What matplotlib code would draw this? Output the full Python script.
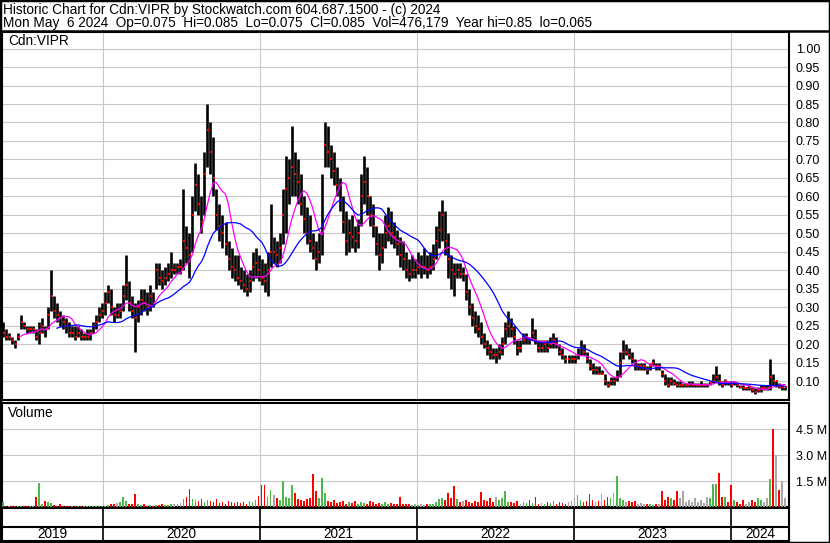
import matplotlib
matplotlib.use('Agg')
import matplotlib.pyplot as plt
import matplotlib.dates as mdates
from matplotlib.lines import Line2D
from matplotlib.patches import Rectangle
import numpy as np
import pandas as pd

plt.rcParams['font.family'] = ['Liberation Sans', 'DejaVu Sans']

# 週足データ（チャートから読み取り、最終週 = 2024-05-06）
wk_low = [
    .20, .22, .21, .21, .20, .19, .21, .24, .24, .23,
    .23, .23, .21, .20, .23, .22, .24, .29, .27, .26,
    .25, .24, .23, .22, .22, .21, .22, .21, .21, .21,
    .21, .23, .24, .26, .27, .28, .31, .28, .26, .27,
    .27, .29, .32, .29, .27, .18, .26, .28, .29, .28,
    .29, .30, .35, .36, .35, .36, .37, .38, .39, .39,
    .39, .40, .42, .38, .45, .56, .55, .50, .55, .68,
    .66, .60, .51, .48, .46, .44, .40, .38, .37, .36,
    .35, .34, .33, .34, .37, .38, .37, .36, .34, .33,
    .41, .42, .41, .42, .47, .50, .58, .60, .60, .58,
    .55, .50, .47, .45, .43, .40, .42, .44, .68, .68,
    .65, .63, .60, .56, .50, .44, .45, .46, .45, .46,
    .52, .58, .55, .52, .49, .44, .40, .42, .46, .48,
    .47, .46, .44, .41, .40, .38, .37, .38, .38, .39,
    .38, .39, .38, .39, .40, .43, .46, .48, .44, .38,
    .35, .33, .38, .38, .37, .32, .28, .25, .23, .22,
    .20, .19, .17, .16, .16, .15, .16, .17, .20, .22,
    .22, .20, .17, .18, .20, .20, .20, .21, .20, .18,
    .18, .18, .18, .19, .19, .19, .17, .16, .15, .15,
    .15, .15, .16, .17, .17, .15, .13, .12, .12, .12,
    .12, .09, .085, .09, .09, .10, .11, .16, .17, .16,
    .15, .13, .13, .13, .13, .12, .13, .14, .13, .13,
    .11, .09, .085, .09, .09, .085, .085, .085, .085, .085,
    .085, .085, .085, .085, .085, .085, .09, .095, .10, .09,
    .085, .09, .09, .085, .09, .085, .08, .075, .075, .075,
    .07, .065, .07, .07, .075, .075, .075, .09, .085, .08, .075, .075,
]
wk_high = [
    .26, .26, .24, .23, .22, .21, .23, .28, .26, .25,
    .25, .25, .24, .26, .27, .25, .30, .40, .33, .31,
    .29, .28, .27, .26, .25, .25, .25, .24, .23, .24,
    .24, .26, .28, .30, .31, .34, .36, .35, .30, .31,
    .31, .36, .44, .37, .33, .31, .32, .35, .35, .34,
    .36, .34, .42, .42, .40, .41, .42, .45, .42, .42,
    .43, .62, .52, .50, .60, .69, .66, .60, .72, .85,
    .80, .76, .62, .58, .55, .53, .48, .46, .44, .44,
    .41, .40, .39, .40, .45, .46, .44, .43, .42, .45,
    .58, .49, .48, .50, .62, .71, .70, .79, .72, .70,
    .66, .60, .57, .55, .50, .48, .50, .66, .80, .79,
    .74, .72, .68, .65, .60, .56, .54, .55, .52, .54,
    .66, .71, .68, .60, .58, .52, .50, .50, .55, .57,
    .56, .53, .51, .49, .48, .45, .43, .44, .43, .45,
    .44, .46, .44, .45, .47, .52, .56, .59, .56, .50,
    .44, .42, .42, .42, .41, .39, .35, .31, .29, .28,
    .26, .23, .21, .20, .19, .19, .20, .22, .26, .29,
    .27, .25, .21, .21, .23, .23, .22, .27, .24, .21,
    .21, .21, .21, .22, .23, .22, .20, .19, .17, .17,
    .17, .17, .19, .21, .20, .18, .16, .15, .14, .14,
    .13, .12, .10, .11, .11, .13, .18, .21, .20, .19,
    .18, .16, .15, .15, .15, .14, .15, .16, .15, .15,
    .13, .12, .11, .11, .105, .10, .10, .095, .095, .10,
    .10, .095, .095, .10, .095, .095, .10, .12, .14, .12,
    .10, .105, .10, .10, .10, .095, .09, .09, .085, .09,
    .085, .08, .085, .09, .09, .09, .16, .12, .10, .095, .09, .085,
]
wk_close = [
    .21, .23, .22, .22, .21, .20, .22, .26, .25, .24,
    .24, .24, .22, .23, .25, .24, .28, .33, .29, .28,
    .27, .26, .25, .23, .23, .22, .23, .22, .22, .22,
    .23, .25, .26, .28, .29, .31, .34, .30, .28, .28,
    .29, .33, .36, .31, .29, .27, .30, .32, .31, .30,
    .33, .31, .40, .38, .37, .38, .39, .40, .40, .41,
    .41, .48, .46, .44, .55, .63, .58, .53, .66, .78,
    .72, .65, .55, .52, .50, .47, .43, .41, .40, .38,
    .37, .36, .35, .37, .41, .42, .40, .38, .37, .40,
    .45, .45, .44, .46, .55, .62, .65, .68, .66, .64,
    .58, .54, .50, .48, .46, .43, .45, .52, .74, .72,
    .70, .67, .63, .59, .53, .48, .50, .49, .48, .50,
    .60, .64, .60, .55, .52, .47, .44, .46, .50, .52,
    .50, .49, .47, .44, .43, .40, .39, .40, .40, .41,
    .41, .41, .40, .41, .43, .48, .51, .55, .48, .43,
    .40, .39, .40, .39, .39, .34, .30, .27, .25, .24,
    .22, .20, .19, .18, .17, .17, .18, .20, .24, .25,
    .24, .22, .19, .19, .21, .22, .21, .23, .21, .19,
    .19, .20, .19, .20, .21, .20, .18, .17, .16, .16,
    .16, .16, .17, .19, .18, .16, .14, .13, .13, .12,
    .12, .10, .09, .10, .10, .11, .15, .18, .18, .17,
    .16, .14, .14, .14, .14, .13, .14, .15, .14, .14,
    .12, .10, .09, .10, .095, .09, .09, .09, .09, .09,
    .09, .09, .09, .09, .09, .09, .095, .10, .11, .10,
    .09, .10, .095, .09, .095, .09, .085, .08, .08, .08,
    .075, .07, .075, .08, .08, .08, .11, .10, .10, .085, .085, .085,
]
# 出来高（百万株）
wk_vol = [
    0.15, 0.27, 0.05, 0.04, 0.03, 0.05, 0.04, 0.03, 0.05, 0.04,
    0.04, 0.05, 0.55, 1.4, 0.2, 0.35, 0.3, 0.25, 0.1, 0.08,
    0.15, 0.08, 0.05, 0.06, 0.05, 0.04, 0.05, 0.04, 0.05, 0.04,
    0.04, 0.05, 0.04, 0.05, 0.06, 0.04, 0.1, 0.15, 0.2, 0.25,
    0.3, 0.6, 0.35, 0.2, 0.15, 0.77, 0.2, 0.1, 0.15, 0.08,
    0.1, 0.08, 0.12, 0.1, 0.15, 0.12, 0.1, 0.2, 0.15, 0.2,
    0.25, 0.45, 0.6, 1.04, 0.45, 0.4, 0.35, 0.45, 0.3, 0.4,
    0.35, 0.3, 0.45, 0.25, 0.3, 0.2, 0.35, 0.3, 0.25, 0.3,
    0.25, 0.3, 0.2, 0.35, 0.3, 0.4, 0.65, 1.25, 1.25, 0.6,
    1.0, 0.7, 0.5, 0.4, 1.5, 0.6, 0.5, 1.25, 0.8, 0.45,
    0.4, 0.35, 0.45, 0.5, 1.93, 0.9, 0.5, 1.68, 0.8, 0.35,
    0.3, 0.4, 0.25, 0.3, 0.35, 0.2, 0.3, 0.25, 0.35, 0.2,
    0.3, 0.25, 0.2, 0.35, 0.3, 0.2, 0.25, 0.15, 0.3, 0.2,
    0.25, 0.2, 0.15, 0.6, 0.2, 0.15, 0.2, 0.1, 0.15, 0.1,
    0.15, 0.1, 0.2, 0.15, 0.2, 0.3, 0.45, 0.5, 0.4, 0.8,
    0.5, 1.2, 0.45, 0.3, 0.35, 0.4, 0.3, 0.25, 0.35, 0.3,
    0.85, 0.4, 0.35, 0.5, 0.3, 0.6, 0.4, 0.5, 0.95, 0.3,
    0.3, 0.25, 0.35, 0.2, 0.3, 0.25, 0.4, 0.25, 0.6, 0.2,
    0.25, 0.2, 0.3, 0.25, 0.35, 0.2, 0.3, 0.25, 0.2, 0.3,
    0.35, 0.5, 0.7, 0.4, 0.3, 0.35, 0.75, 0.4, 0.3, 0.35,
    0.75, 0.4, 0.6, 0.5, 0.8, 1.8, 0.5, 0.4, 0.3, 0.35,
    0.3, 0.35, 0.2, 0.25, 0.15, 0.2, 0.15, 0.1, 0.2, 0.15,
    0.95, 0.4, 0.6, 0.5, 0.4, 0.9, 0.5, 0.9, 0.3, 0.4,
    0.3, 0.5, 0.3, 0.4, 0.25, 0.6, 0.5, 1.35, 1.35, 1.95,
    0.6, 0.6, 0.3, 1.25, 0.4, 0.3, 0.2, 0.4, 0.2, 0.3,
    0.4, 0.3, 0.5, 0.4, 0.3, 0.5, 1.6, 4.5, 3.0, 1.0, 1.5, 0.5,
]
years = ['2019', '2020', '2021', '2022', '2023', '2024']

header1 = 'Historic Chart for Cdn:VIPR by Stockwatch.com 604.687.1500 - (c) 2024'
header2 = ('Mon May  6 2024  Op=0.075  Hi=0.085  Lo=0.075  Cl=0.085  '
           'Vol=476,179  Year hi=0.85  lo=0.065')

dates = pd.date_range(end='2024-05-06', periods=len(wk_close), freq='7D')
x = mdates.date2num(dates)
close = pd.Series(wk_close)
ma_fast = close.rolling(8).mean()
ma_slow = close.rolling(20).mean()

x0 = mdates.date2num(pd.Timestamp('2019-05-11'))
x1 = mdates.date2num(pd.Timestamp('2024-05-15'))
year_starts = [mdates.date2num(pd.Timestamp(f'{y}-01-01')) for y in years[1:]]

W, H = 830, 543
fig = plt.figure(figsize=(W / 100, H / 100), dpi=100)


def box(l, t, r, b):
    return [l / W, 1 - b / H, (r - l) / W, (b - t) / H]


grid_kw = dict(color='#c8c8c8', lw=0.8)
FS = 9        # 目盛りラベル
FS_TXT = 9.8  # ヘッダー・パネル名・年

# --- 価格パネル ---
ax_p = fig.add_axes(box(2, 32, 789, 400))
ax_p.vlines(x, wk_low, wk_high, color='black', lw=1.9, zorder=3)
ax_p.plot(x + 1.5, wk_close, 's', color='red', ms=1.6, mew=0, zorder=4)
ax_p.plot(x, ma_fast, color='#ff00ff', lw=0.9, zorder=5)
ax_p.plot(x, ma_slow, color='#0000ff', lw=0.9, zorder=5)
ax_p.set_xlim(x0, x1)
ax_p.set_ylim(0.0487, 1.045)
yt = np.arange(0.10, 1.001, 0.05)
ax_p.set_yticks(yt)
ax_p.set_yticklabels([f'{v:.2f}' for v in yt])
ax_p.set_xticks(year_starts)
ax_p.grid(True, **grid_kw)
ax_p.set_axisbelow(True)
ax_p.tick_params(axis='both', length=0, labelbottom=False, labelleft=False,
                 labelright=True, labelsize=FS, pad=5)
fig.text(8 / W, 1 - 41 / H, 'Cdn:VIPR', fontsize=FS_TXT, va='center')

# --- 出来高パネル ---
ax_v = fig.add_axes(box(2, 403, 789, 507))
diff = np.diff(np.array(wk_close), prepend=wk_close[0])
vcol = np.where(diff > 1e-9, '#4cb84c', np.where(diff < -1e-9, '#ff0000', '#a8a8a8'))
ax_v.bar(x, wk_vol, width=4, color=vcol, zorder=3)
ax_v.set_xlim(x0, x1)
ax_v.set_ylim(0, 6.0)
ax_v.set_yticks([1.5, 3.0, 4.5])
ax_v.set_yticklabels(['1.5 M', '3.0 M', '4.5 M'])
ax_v.set_xticks(year_starts)
ax_v.grid(True, **grid_kw)
ax_v.set_axisbelow(True)
ax_v.tick_params(axis='both', length=0, labelbottom=False, labelleft=False,
                 labelright=True, labelsize=FS, pad=5)
fig.text(8 / W, 1 - 413 / H, 'Volume', fontsize=FS_TXT, va='center')

# --- 年ラベル帯 ---
ax_y = fig.add_axes(box(2, 508, 789, 541))
ax_y.set_xlim(x0, x1)
ax_y.set_ylim(0, 1)
ax_y.vlines(year_starts, 0, 1, color='black', lw=1.2)
ax_y.axhline((541 - 527) / 33, color='black', lw=1.5)
edges = [x0] + year_starts + [x1]
for i, y in enumerate(years):
    ax_y.text((edges[i] + edges[i + 1]) / 2, 0.2, y, ha='center', va='center', fontsize=FS_TXT)
ax_y.set_xticks([])
ax_y.set_yticks([])

for ax in (ax_p, ax_v, ax_y):
    for s in ax.spines.values():
        s.set_color('black')
        s.set_linewidth(1.5)

# ヘッダー
fig.text(3 / W, 1 - 10 / H, header1, fontsize=FS_TXT, va='center')
fig.text(3 / W, 1 - 23 / H, header2, fontsize=FS_TXT, va='center')
fig.add_artist(Line2D([0, 1], [1 - 31 / H] * 2, transform=fig.transFigure, color='black', lw=1.8))
fig.add_artist(Rectangle((0, 0), 1, 1, transform=fig.transFigure, fill=False, ec='black', lw=2.5))

fig.savefig('out.png', dpi=100, facecolor='white')
